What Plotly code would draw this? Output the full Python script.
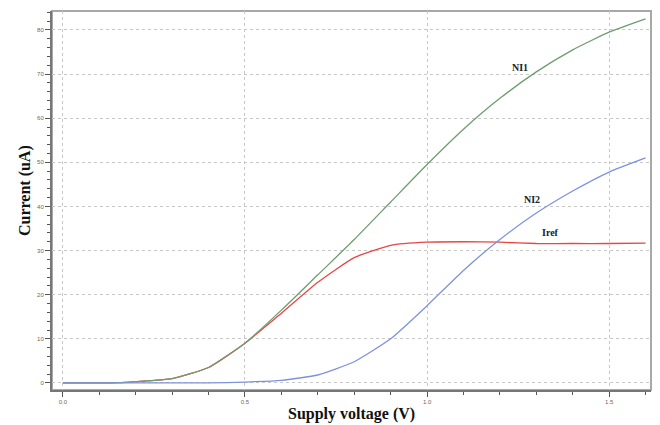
import plotly.graph_objects as go

voltage = [0.0, 0.1, 0.15, 0.2, 0.3, 0.4, 0.5, 0.6, 0.7, 0.8, 0.9, 1.0, 1.1, 1.2, 1.3, 1.4, 1.5, 1.6]
ni1 = [0.0, 0.0, 0.05, 0.3, 1.0, 3.5, 9.0, 16.5, 24.5, 32.5, 41.0, 49.5, 57.5, 64.5, 70.5, 75.5, 79.5, 82.5]
iref = [0.0, 0.0, 0.05, 0.3, 1.0, 3.5, 9.0, 15.8, 22.8, 28.4, 31.2, 31.9, 32.0, 31.9, 31.6, 31.6, 31.6, 31.7]
ni2 = [0.0, 0.0, 0.0, 0.0, 0.0, 0.0, 0.2, 0.6, 1.8, 4.8, 10.0, 17.5, 25.5, 32.5, 38.5, 43.5, 47.8, 51.0]

labels = ["NI1", "NI2", "Iref"]
label_x = [1.256, 1.288, 1.338]
label_y = [71.4, 41.5, 34.0]

fig = go.Figure()
fig.add_trace(go.Scatter(x=voltage, y=iref, mode="lines",
                         line=dict(color="#e84545", width=1.3, shape="spline", smoothing=0.5), name="Iref"))
fig.add_trace(go.Scatter(x=voltage, y=ni1, mode="lines",
                         line=dict(color="#6f9c70", width=1.3, shape="spline", smoothing=0.5), name="NI1"))
fig.add_trace(go.Scatter(x=voltage, y=ni2, mode="lines",
                         line=dict(color="#7f92dc", width=1.3, shape="spline", smoothing=0.5), name="NI2"))

for t, xx, yy in zip(labels, label_x, label_y):
    fig.add_annotation(x=xx, y=yy, text="<b>" + t + "</b>", showarrow=False,
                       font=dict(family="Liberation Serif", size=10, color="#222"))

fig.add_annotation(xref="paper", yref="paper", x=0.5, y=-0.063, yanchor="middle", showarrow=False,
                   text="<b>Supply voltage (V)</b>",
                   font=dict(family="Liberation Serif", size=16, color="#111"))
fig.add_annotation(xref="paper", yref="paper", x=-0.045, xanchor="center", y=0.525, yanchor="middle",
                   textangle=-90, showarrow=False, text="<b>Current (uA)</b>",
                   font=dict(family="Liberation Serif", size=16, color="#111"))

fig.add_shape(type="rect", xref="paper", yref="paper", x0=0, y0=0, x1=1, y1=1,
              line=dict(color="#a8a8a8", width=2), layer="below")

# page body has an 8px default margin, so the figure is sized/offset to compensate
fig.update_layout(
    width=652, height=417,
    margin=dict(l=44, r=9, t=3, b=35, autoexpand=False),
    paper_bgcolor="white", plot_bgcolor="white",
    showlegend=False,
    xaxis=dict(
        range=[-0.03, 1.615], tickvals=[0, 0.5, 1.0, 1.5], ticktext=["0.0", "0.5", "1.0", "1.5"],
        ticks="outside", ticklen=5, tickcolor="#555", showline=True, linecolor="#777", linewidth=2,
        tickfont=dict(family="Liberation Sans", size=6, color="#666"), automargin=False,
        showgrid=True, gridcolor="#c8c8c8", griddash="dot", gridwidth=1, zeroline=False,
        minor=dict(dtick=0.1, tick0=0, ticks="outside", ticklen=3, tickcolor="#555", showgrid=False),
    ),
    yaxis=dict(
        range=[-1.6, 84.3], tickvals=[0, 10, 20, 30, 40, 50, 60, 70, 80],
        ticks="outside", ticklen=5, tickcolor="#555", showline=True, linecolor="#777", linewidth=2,
        tickfont=dict(family="Liberation Sans", size=6, color="#666"), automargin=False,
        showgrid=True, gridcolor="#c8c8c8", griddash="dot", gridwidth=1, zeroline=False,
        minor=dict(dtick=2, tick0=0, ticks="outside", ticklen=3, tickcolor="#555", showgrid=False),
    ),
)

fig.write_html("out.html")
